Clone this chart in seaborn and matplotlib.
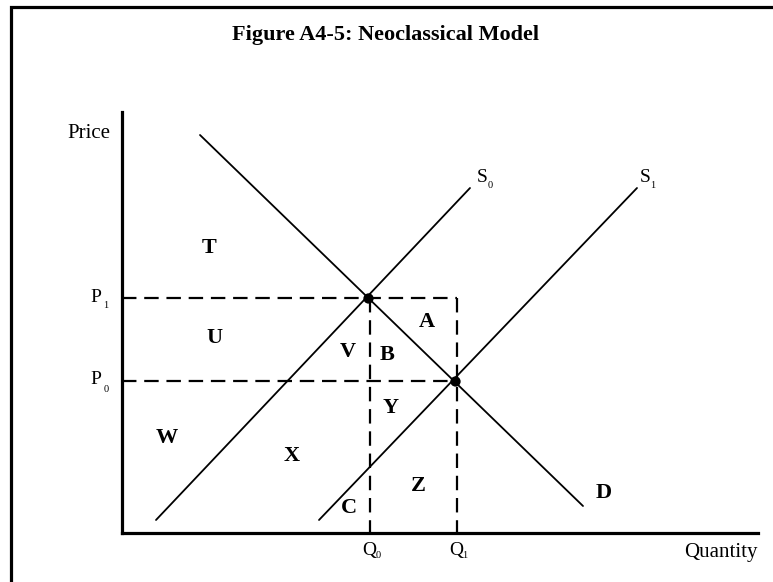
import matplotlib
matplotlib.use("Agg")
import matplotlib.pyplot as plt
import seaborn as sns
import pandas as pd
from matplotlib.patches import Rectangle

sns.set_style("white")
plt.rcParams['font.family'] = ['Liberation Serif', 'DejaVu Serif']
plt.rcParams['text.color'] = 'black'

# Curves (data units)
demand_x = [78, 461]
demand_y = [398, 27]
s0_x = [34, 348]
s0_y = [13, 345]
s1_x = [197, 515]
s1_y = [13, 345]

# Equilibria
eq_x = [246, 333]
eq_y = [235, 152]
p_labels = ["P", "P"]
p_subs = ["1", "0"]
q_labels = ["Q", "Q"]
q_subs = ["0", "1"]

# Area labels
area_labels = ["T", "U", "V", "B", "A", "Y", "W", "X", "Z", "C", "D"]
area_x = [87, 92, 226, 265, 305, 269, 45, 170, 296, 227, 482]
area_y = [285, 195, 181, 178, 211, 125, 95, 77, 47, 25, 40]

fig = plt.figure(figsize=(7.73, 5.82), dpi=100)
W, H = 773, 582
ax = fig.add_axes([122 / W, (H - 533) / H, 636 / W, 421 / H])
ax.set_xlim(0, 636)
ax.set_ylim(0, 421)

lw = 1.3
df_d = pd.DataFrame({"x": demand_x, "y": demand_y})
df_s0 = pd.DataFrame({"x": s0_x, "y": s0_y})
df_s1 = pd.DataFrame({"x": s1_x, "y": s1_y})
for d in (df_d, df_s0, df_s1):
    sns.lineplot(data=d, x="x", y="y", ax=ax, color="black", linewidth=lw,
                 sort=False, estimator=None)

# dashed guide lines
dash = dict(color="black", linewidth=1.6, linestyle=(0, (6.5, 3.5)))
ax.plot([0, eq_x[1] + 2], [eq_y[0], eq_y[0]], **dash)
ax.plot([eq_x[1] + 2, eq_x[1] + 2], [eq_y[0], 0], **dash)
ax.plot([0, eq_x[1]], [eq_y[1], eq_y[1]], **dash)
ax.plot([eq_x[0] + 2, eq_x[0] + 2], [eq_y[0], 0], **dash)

sns.scatterplot(x=eq_x, y=eq_y, ax=ax, color="black", s=55, zorder=5,
                edgecolor="black", linewidth=0)

# spines
sns.despine(ax=ax)
for s in ("left", "bottom"):
    ax.spines[s].set_linewidth(2.3)
    ax.spines[s].set_color("black")
ax.set_xticks([])
ax.set_yticks([])
ax.set_xlabel("")
ax.set_ylabel("")

# axis labels
ax.text(-12, 400, "Price", ha="right", va="center", fontsize=15)
ax.text(636, -20, "Quantity", ha="right", va="center", fontsize=15)

# P labels
for yv, lab, sub in zip(eq_y, p_labels, p_subs):
    ax.text(-21, yv + 1, lab, ha="right", va="center", fontsize=14)
    ax.text(-16, yv - 8, sub, ha="center", va="center", fontsize=7.5)
# Q labels
for xv, lab, sub in zip(eq_x, q_labels, q_subs):
    ax.text(xv + 1, -17, lab, ha="center", va="center", fontsize=14)
    ax.text(xv + 10, -23, sub, ha="center", va="center", fontsize=7.5)

# S labels
ax.text(360, 355, "S", ha="center", va="center", fontsize=14)
ax.text(368, 347, "0", ha="center", va="center", fontsize=7.5)
ax.text(523, 355, "S", ha="center", va="center", fontsize=14)
ax.text(531, 347, "1", ha="center", va="center", fontsize=7.5)

for lab, xv, yv in zip(area_labels, area_x, area_y):
    ax.text(xv, yv, lab, ha="center", va="center", fontsize=16, fontweight="bold")

fig.text(386 / W, 1 - 35 / H, "Figure A4-5: Neoclassical Model", ha="center",
         va="center", fontsize=16, fontweight="bold")

# frame (clipped at right and bottom)
fig.patches.append(Rectangle((10.5 / W, -0.1), 2.0, 1 - 7 / H + 0.1,
                             transform=fig.transFigure, fill=False,
                             edgecolor="black", linewidth=2.3))

fig.savefig("out.png", dpi=100)
